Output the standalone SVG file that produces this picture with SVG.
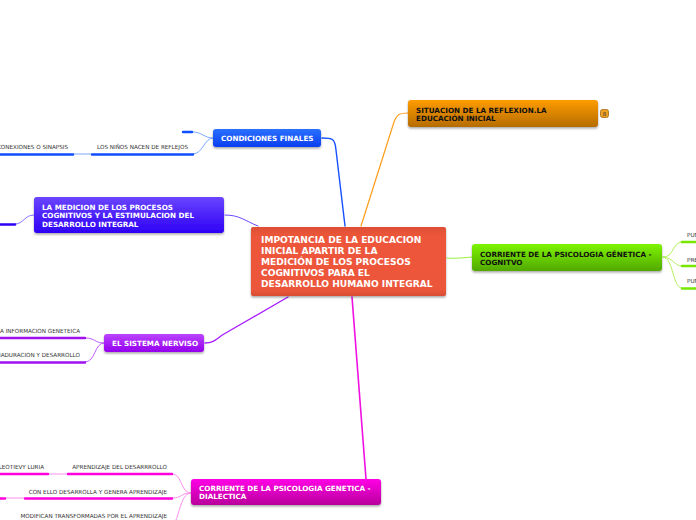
<svg xmlns="http://www.w3.org/2000/svg" width="696" height="520" viewBox="0 0 696 520">
<defs>
<linearGradient id="gb" x1="0" y1="0" x2="0" y2="1"><stop offset="0" stop-color="#2a70ff"/><stop offset="1" stop-color="#0a3ff0"/></linearGradient>
<linearGradient id="gi" x1="0" y1="0" x2="0" y2="1"><stop offset="0" stop-color="#6a45ff"/><stop offset="1" stop-color="#2e00f5"/></linearGradient>
<linearGradient id="gp" x1="0" y1="0" x2="0" y2="1"><stop offset="0" stop-color="#bb44ff"/><stop offset="1" stop-color="#9400ee"/></linearGradient>
<linearGradient id="gm" x1="0" y1="0" x2="0" y2="1"><stop offset="0" stop-color="#ff00e6"/><stop offset="1" stop-color="#b8009c"/></linearGradient>
<linearGradient id="gg" x1="0" y1="0" x2="0" y2="1"><stop offset="0" stop-color="#7df500"/><stop offset="1" stop-color="#52a800"/></linearGradient>
<linearGradient id="go" x1="0" y1="0" x2="0" y2="1"><stop offset="0" stop-color="#ff9c00"/><stop offset="1" stop-color="#b56c00"/></linearGradient>
<linearGradient id="gr" x1="0" y1="0" x2="0" y2="1"><stop offset="0" stop-color="#dd4f36"/><stop offset="0.15" stop-color="#ee573a"/><stop offset="0.9" stop-color="#ec563a"/><stop offset="1" stop-color="#d94d33"/></linearGradient>
<filter id="sh" x="-5%" y="-10%" width="110%" height="125%"><feDropShadow dx="0" dy="1.5" stdDeviation="1" flood-color="#000" flood-opacity="0.35"/></filter>
</defs>
<style>
text{font-family:"DejaVu Sans",Verdana,sans-serif}
.t{font-size:7.2px;font-weight:700;fill:#fff}
.k{font-size:7.2px;font-weight:700;fill:#111}
.c{font-size:9.1px;font-weight:700;fill:#fff}
.s{font-size:5.65px;fill:#333}
.l{fill:none;stroke-linecap:round}
.n{filter:url(#sh)}
</style>
<g id="connectors">
<path class="l" stroke="#1450ff" stroke-width="1.4" d="M322 138C332 138 335 138 336 150L345 226"/>
<path class="l" stroke="#6c45ff" stroke-width="1" d="M225 215C240 215 245 221 258 226"/>
<path class="l" stroke="#a61bff" stroke-width="1.3" d="M205 343C215 343 217 338 224 334L288 297"/>
<path class="l" stroke="#f010e0" stroke-width="1.6" d="M352 297L366 479"/>
<path class="l" stroke="#ff9c1a" stroke-width="1.2" d="M361 226L394 122C397 114 400 113 408 113"/>
<path class="l" stroke="#9cf040" stroke-width="1.1" d="M447 258C458 259 462 258 472 257"/>
<path class="l" stroke="#7aa8ff" stroke-width="1" d="M213 138C204 138 202 132 193 132M213 138C204 138 203 154 193 154M91 154H74"/>
<path class="l" stroke="#0f4dff" stroke-width="2.4" d="M183 132H192M92 154.500H193M0 154.500H73"/>
<path class="l" stroke="#8d70ff" stroke-width="1" d="M34 215C24 215 24 224 15 224"/>
<path class="l" stroke="#2e00f5" stroke-width="2.4" d="M0 224.500H15"/>
<path class="l" stroke="#c060ff" stroke-width="1" d="M104 343C94 343 96 338 85 338M104 343C94 343 96 362 85 362"/>
<path class="l" stroke="#a010f0" stroke-width="2.4" d="M0 338H85M0 362.500H85"/>
<path class="l" stroke="#ff90f0" stroke-width="1" d="M191 493C180 493 183 474 172 474M191 493C180 493 183 498 172 498M191 493C182 493 180 510 176 520M49 474H67M6 498H24"/>
<path class="l" stroke="#ff00dc" stroke-width="2.4" d="M68 474H172M0 474H48M25 498.500H172M0 498.500H5"/>
<path class="l" stroke="#b4f060" stroke-width="1" d="M663 257C674 258 672 242 682 242M663 257C674 258 674 266 682 266M663 257C674 258 672 288 682 288"/>
<path class="l" stroke="#78e800" stroke-width="2.4" d="M682 242H696M682 266H696M682 288.500H696"/>
</g>
<g id="central"><rect class="n" x="251" y="227" width="195" height="69" rx="2" fill="url(#gr)"/>
<text class="c" x="261" y="243">IMPOTANCIA DE LA EDUCACION</text><text class="c" x="261" y="254">INICIAL APARTIR DE LA</text><text class="c" x="261" y="265">MEDICIÓN DE LOS PROCESOS</text><text class="c" x="261" y="276">COGNITIVOS PARA EL</text><text class="c" x="261" y="287">DESARROLLO HUMANO INTEGRAL</text></g>
<g id="condiciones"><rect class="n" x="213" y="129" width="108" height="18" rx="3" fill="url(#gb)"/><text class="t" x="221" y="141">CONDICIONES FINALES</text></g>
<g id="medicion"><rect class="n" x="34" y="197" width="190" height="36" rx="3" fill="url(#gi)"/><text class="t" x="42" y="209.500">LA MEDICION DE LOS PROCESOS</text><text class="t" x="42" y="218">COGNITIVOS Y LA ESTIMULACION DEL</text><text class="t" x="42" y="226.500">DESARROLLO INTEGRAL</text></g>
<g id="sistema"><rect class="n" x="104" y="334" width="100" height="18" rx="3" fill="url(#gp)"/><text class="t" x="112" y="345.500">EL SISTEMA NERVISO</text></g>
<g id="dialectica"><rect class="n" x="191" y="479" width="190" height="26" rx="3" fill="url(#gm)"/><text class="t" x="199" y="491">CORRIENTE DE LA PSICOLOGIA GENETICA -</text><text class="t" x="199" y="499">DIALECTICA</text></g>
<g id="cognitivo"><rect class="n" x="472" y="244" width="190" height="27" rx="3" fill="url(#gg)"/><text class="k" x="480" y="256.500">CORRIENTE DE LA PSICOLOGIA GÉNETICA -</text><text class="k" x="480" y="264.500">COGNITVO</text></g>
<g id="situacion"><rect class="n" x="408" y="100" width="190" height="27" rx="3" fill="url(#go)"/><text class="k" x="416" y="112.500">SITUACION DE LA REFLEXION.LA</text><text class="k" x="416" y="120.500">EDUCACIÓN INICIAL</text></g>
<g id="badge"><rect x="600.500" y="109.500" width="8" height="8" rx="2" fill="#f0a020" stroke="#a06a10" stroke-width="0.8"/><text x="604.500" y="115.500" font-size="5.500" text-anchor="middle" fill="#333">8</text></g>
<g id="leaves">
<text class="s" x="188" y="149" text-anchor="end">LOS NIÑOS NACEN DE REFLEJOS</text>
<text class="s" x="68" y="149" text-anchor="end">CONEXIONES O SINAPSIS</text>
<text class="s" x="80" y="333" text-anchor="end">LA INFORMACION GENETEICA</text>
<text class="s" x="80" y="357" text-anchor="end">MADURACION Y DESARROLLO</text>
<text class="s" x="167" y="469" text-anchor="end">APRENDIZAJE DEL DESARRROLLO</text>
<text class="s" x="44" y="469" text-anchor="end">LEOTIEVY LURIA</text>
<text class="s" x="167" y="494" text-anchor="end">CON ELLO DESARROLLA Y GENERA APRENDIZAJE</text>
<text class="s" x="167" y="518" text-anchor="end">MODIFICAN TRANSFORMADAS POR EL APRENDIZAJE</text>
<text class="s" x="687" y="237">PUN</text>
<text class="s" x="687" y="262">PRE</text>
<text class="s" x="687" y="283">PUN</text>
</g>
</svg>
